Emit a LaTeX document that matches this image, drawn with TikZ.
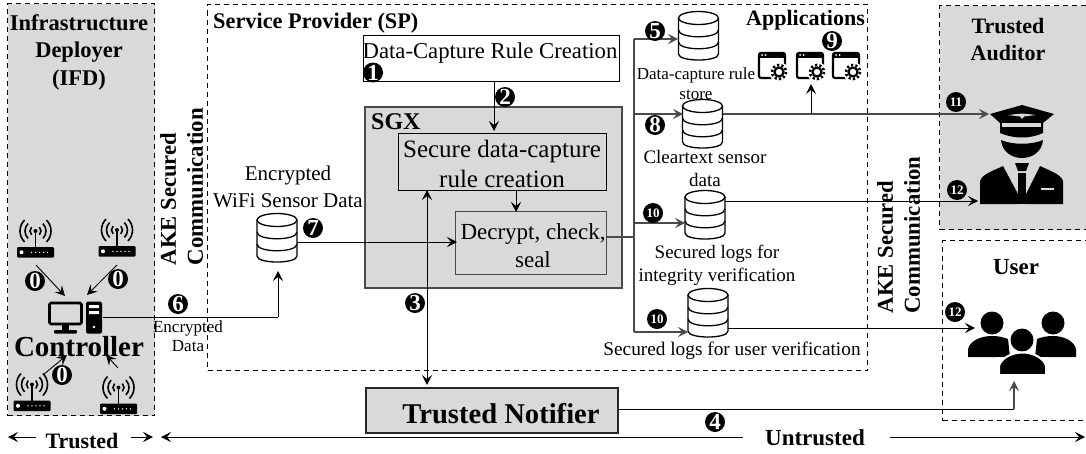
\documentclass[tikz,border=0pt]{standalone}
\usepackage{fontspec}
\setmainfont{Liberation Serif}
\usetikzlibrary{arrows.meta,calc}
\definecolor{panel}{HTML}{D9D9D9}
\definecolor{wire}{HTML}{4A4A4A}
\newcommand{\fs}[1]{\fontsize{#1}{#1}\selectfont}
\tikzset{
  tip/.style={-{Stealth[length=10pt,width=10pt,inset=4pt]}},
  duotip/.style={{Stealth[length=10pt,width=10pt,inset=4pt]}-{Stealth[length=10pt,width=10pt,inset=4pt]}},
  link/.style={line width=0.9pt,black},
  trunk/.style={line width=1.3pt,wire},
  zone/.style={draw,dashed,line width=1pt,dash pattern=on 5pt off 4pt,inner sep=0,anchor=north west},
  solidbox/.style={draw,line width=1.3pt,inner sep=0,anchor=north west},
  num/.style={circle,fill=black,text=white,inner sep=0,minimum size=20pt,font=\bfseries\fs{23}},
  numb/.style={circle,fill=black,text=white,inner sep=0,minimum size=20pt,font=\bfseries\fs{13}},
  txt/.style={inner sep=0,align=center,text depth=0pt},
  db/.pic={
    \draw[line width=1.3pt,fill=white] (-20,-18) -- (-20,18) .. controls (-20,26) and (20,26) .. (20,18) -- (20,-18);
    \draw[line width=1.3pt,fill=white] (0,-18) ellipse[x radius=20,y radius=6.5];
    \draw[line width=1.3pt] (-20,-6) .. controls (-20,3) and (20,3) .. (20,-6);
    \draw[line width=1.3pt] (-20,6) .. controls (-20,15) and (20,15) .. (20,6);
  },
  router/.pic={
    \fill[rounded corners=1pt] (-18.5,-5) rectangle (18.5,5.5);
    \fill[white] (-14,0.3) circle[radius=2];
    \foreach \q in {-4,0,4,8,12} \fill[white] (\q,0.3) circle[radius=0.8];
    \draw[line width=1.6pt] (0,-5) -- (0,-21);
    \fill (0,-21) circle[radius=2];
    \foreach \r in {5.5,10.5,15.5} {
      \draw[line width=1.6pt] (0,-21) ++(-45:\r) arc[start angle=-45,end angle=45,radius=\r];
      \draw[line width=1.6pt] (0,-21) ++(135:\r) arc[start angle=135,end angle=225,radius=\r];
    }
  },
  appicon/.pic={
    \draw[line width=2.2pt,rounded corners=2pt] (11,13) -- (-13,13) -- (-13,-12) -- (13,-12) -- (13,7);
    \fill (-13,-12) rectangle (13,-7);
    \fill[white] (-10,-10) circle[radius=1] (-6.5,-10) circle[radius=1];
    \fill[white] (7,7) circle[radius=10];
    \draw[line width=2.2pt] (7,7) circle[radius=4.5];
    \draw[line width=2.6pt,dash pattern=on 2.2pt off 2.2pt] (7,7) circle[radius=7];
  },
}
\begin{document}
\begin{tikzpicture}[x=1pt,y=-1pt,every node/.style={font=\fs{18}}]
\useasboundingbox (0,0) rectangle (1086,453);

% zones
\node[zone,fill=panel,minimum width=147pt,minimum height=412pt] (ifd) at (7,3) {};
\node[zone,minimum width=660pt,minimum height=366pt] (sp) at (207,4) {};
\node[zone,fill=panel,minimum width=150pt,minimum height=224pt] (auditor) at (939,5) {};
\node[zone,minimum width=150pt,minimum height=180pt] (userzone) at (942,240) {};

% solid boxes
\node[solidbox,fill=white,minimum width=256pt,minimum height=46pt] (rule) at (363,35) {};
\node[solidbox,fill=panel,draw=wire,line width=1.6pt,minimum width=257pt,minimum height=181pt] (sgx) at (364,106) {};
\node[solidbox,minimum width=208pt,minimum height=57pt] (secure) at (398,133) {};
\node[solidbox,draw=wire,minimum width=151pt,minimum height=63pt] (decrypt) at (455,211) {};
\node[solidbox,fill=panel,draw=black!85,line width=1.6pt,minimum width=252pt,minimum height=45pt] (notifier) at (365,387) {};

% icons
\pic at (698.5,36) {db};
\pic at (702.5,124) {db};
\pic at (705,215) {db};
\pic at (708,313) {db};
\pic at (277,238) {db};
\pic at (35.5,252) {router};
\pic at (117,251) {router};
\pic at (32,405.5) {router};
\pic at (118.5,408.5) {router};
\pic at (772,65) {appicon};
\pic at (810,65) {appicon};
\pic at (846,65) {appicon};

% computer
\draw[line width=2.6pt,rounded corners=1.5pt] (49.5,303) rectangle (81.5,324);
\fill (62,325) rectangle (69,331);
\fill[rounded corners=1pt] (54,330) rectangle (77,333.5);
\fill[rounded corners=1.5pt] (86,301.5) rectangle (102,333.5);
\fill[white] (89,305) rectangle (99,308) (89,311) rectangle (99,314);
\fill[white] (94,327) circle[radius=1.4];

% officer
\fill (990,114) -- (1022,105) -- (1054,114) -- (1043,123) -- (1043,133) .. controls (1030,139) and (1014,139) .. (1000,133) -- (1000,123) -- cycle;
\fill[panel] (1002,123) rectangle (1041,127);
\fill[panel] (1008,115) -- (1022,113.5) -- (1036,115) -- (1024,116.5) -- (1022,119) -- (1020,116.5) -- cycle;
\fill (1001,140) .. controls (1012,145) and (1032,145) .. (1043,140) .. controls (1042,152) and (1032,158) .. (1022,158) .. controls (1012,158) and (1002,152) .. (1001,140) -- cycle;
\fill (980,204) -- (980,181) .. controls (982,174) and (995,170) .. (1003,166) -- (1018,194) -- (1018,204) -- cycle;
\fill (1063,204) -- (1063,181) .. controls (1061,174) and (1048,170) .. (1040,166) -- (1026,194) -- (1026,204) -- cycle;
\fill (980,196) rectangle (1063,204);
\fill (1015,163) -- (1029,163) -- (1026,171) -- (1018,171) -- cycle;
\fill (1018,173) -- (1026,173) -- (1026,204) -- (1018,204) -- cycle;
\fill[panel] (1041,187.5) rectangle (1054,190);

% users
\fill (992,323) circle[radius=11.5] (1053,323) circle[radius=11.5] (1022,340) circle[radius=11.5];
\fill (968,357) -- (968,349) .. controls (970,341) and (980,336) .. (992,336) .. controls (998,336) and (1003,337) .. (1008,339) -- (1010,357) -- cycle;
\fill (1076,357) -- (1076,349) .. controls (1074,341) and (1064,336) .. (1053,336) .. controls (1047,336) and (1042,337) .. (1037,339) -- (1035,357) -- cycle;
\fill[white] (997,372) rectangle (1048,357);
\draw[white,line width=2pt,fill=black] (999,375) -- (999,366) .. controls (1001,358) and (1012,352.5) .. (1022.5,352.5) .. controls (1033,352.5) and (1044,358) .. (1046,366) -- (1046,375) -- cycle;

% connector anchors
\coordinate (trunktop) at (634,39);
\coordinate (trunkbot) at (634,332);
\coordinate (dbfive) at (678,39);
\coordinate (dbeight) at (683,114);
\coordinate (dbeightR) at (723,114);
\coordinate (dbtenA) at (685,223);
\coordinate (dbtenAR) at (725,201);
\coordinate (dbtenB) at (688,332);
\coordinate (dbtenBR) at (728,328);
\coordinate (dbsevenB) at (278,271);
\coordinate (dbsevenR) at (297,242);
\coordinate (decryptin) at (457,242);
\coordinate (apps) at (811,84);
\coordinate (appsfoot) at (811,114);
\coordinate (officerhat) at (989,114);
\coordinate (officerbody) at (978,201);
\coordinate (usersA) at (975,328);
\coordinate (usersB) at (1014,381);
\coordinate (pcport) at (103,317);
\coordinate (elbow) at (278,317);
\coordinate (turn) at (1014,409);
\coordinate (threeTop) at (427,190);
\coordinate (threeBot) at (427,385);

% connectors
\draw[trunk] (trunktop) -- (trunkbot);
\draw[trunk,tip] (trunktop) -- (dbfive);
\draw[trunk,tip] (trunktop |- dbeight) -- (dbeight);
\draw[trunk,tip] (trunktop |- dbtenA) -- (dbtenA);
\draw[trunk,tip] (trunkbot) -- (dbtenB);
\draw[trunk] (decrypt.east |- 0,237) -- (634,237);
\draw[trunk,tip] (dbeightR) -- (officerhat);
\draw[link,tip] (appsfoot) -- (apps);
\draw[link,tip] (dbtenAR) -- (officerbody);
\draw[link,tip] (dbtenBR) -- (usersA);
\draw[link,tip] (rule.south -| 494,0) -- (494,131);
\draw[link,tip] (secure.south -| 516,0) -- (516,212);
\draw[link,tip] (dbsevenR) -- (decryptin);
\draw[link,duotip] (threeTop) -- (threeBot);
\draw[link] (pcport) -- (elbow);
\draw[link,tip] (elbow) -- (dbsevenB);
\draw[link] (notifier.east |- turn) -- (turn);
\draw[trunk,tip] (turn) -- (usersB);
\coordinate (ra) at (36,265); \coordinate (rb) at (117,265); \coordinate (rc) at (43,375); \coordinate (rd) at (118,368);
\coordinate (pa) at (65,296); \coordinate (pb) at (87,295); \coordinate (pc) at (67,355); \coordinate (pd) at (106,355);
\draw[link,tip] (ra) -- (pa);
\draw[link,tip] (rb) -- (pb);
\draw[link,tip] (rc) -- (pc);
\draw[link,tip] (rd) -- (pd);

% range arrows
\coordinate (ta) at (36,437); \coordinate (tb) at (8,437); \coordinate (tc) at (131,437); \coordinate (td) at (153,437);
\coordinate (ua) at (743,437); \coordinate (ub) at (161,437); \coordinate (uc) at (890,437); \coordinate (ud) at (1085,437);
\draw[link,tip] (ta) -- (tb);
\draw[link,tip] (tc) -- (td);
\draw[link,tip] (ua) -- (ub);
\draw[link,tip] (uc) -- (ud);

% texts
\node[txt,font=\bfseries\fs{22.5}] (t1) at (79,50) {Infrastructure\\[5pt]Deployer\\[5pt](IFD)};
\node[txt,font=\bfseries\fs{22.3},anchor=west] (t2) at (213,21) {Service Provider (SP)};
\node[txt,font=\bfseries\fs{22},anchor=east] (t3) at (865,18) {Applications};
\node[txt,font=\bfseries\fs{22}] (t4) at (1008,39) {Trusted\\[5pt]Auditor};
\node[txt,font=\bfseries\fs{23}] (t5) at (1016,267) {User};
\node[txt,font=\bfseries\fs{22.6},rotate=90] (t6) at (168,199) {AKE Secured};
\node[txt,font=\bfseries\fs{22.8},rotate=90] (t7) at (195,186.5) {Communication};
\node[txt,font=\bfseries\fs{22.6},rotate=90] (t8) at (885,247) {AKE Secured};
\node[txt,font=\bfseries\fs{22.8},rotate=90] (t9) at (912,235) {Communication};
\node[txt,font=\fs{22.7}] (t10) at (490,50.5) {Data-Capture Rule Creation};
\node[txt,font=\bfseries\fs{24},anchor=west] (t11) at (371,122) {SGX};
\node[txt,font=\fs{25}] (t12) at (502,164) {Secure data-capture\\[5pt]rule creation};
\node[txt,font=\fs{23}] (t13) at (533,246) {Decrypt, check,\\[5pt]seal};
\node[txt,font=\bfseries\fs{28.6}] (t14) at (501,413) {Trusted Notifier};
\node[txt,font=\bfseries\fs{29}] (t15) at (79,346) {Controller};
\node[txt,font=\bfseries\fs{22}] (t16) at (82,441) {Trusted};
\node[txt,font=\bfseries\fs{23}] (t17) at (815,438) {Untrusted};
\node[txt,font=\fs{21}] (t18) at (288,187) {Encrypted\\[6pt]WiFi Sensor Data};
\node[txt,font=\fs{17}] (t19) at (696,84) {Data-capture rule\\[3pt]store};
\node[txt,font=\fs{19}] (t20) at (705,168) {Cleartext sensor\\[4pt]data};
\node[txt,font=\fs{19}] (t21) at (717,263) {Secured logs for\\[4pt]integrity verification};
\node[txt,font=\fs{19.3}] (t22) at (732,349) {Secured logs for user verification};
\node[txt,font=\fs{17}] (t23) at (188,336) {Encrypted\\[2pt]Data};

% numbers
\node[num] (n1) at (373,72.5) {1};
\node[num] (n2) at (505,97) {2};
\node[num] (n3) at (415,303) {3};
\node[num] (n4) at (715,422) {4};
\node[num] (n5) at (655,31) {5};
\node[num] (n6) at (178,304) {6};
\node[num] (n7) at (313,228) {7};
\node[num] (n8) at (655,125) {8};
\node[num] (n9) at (832,41) {9};
\node[numb] (n10a) at (653,213) {10};
\node[numb] (n10b) at (657,319) {10};
\node[numb] (n11) at (956,102) {11};
\node[numb] (n12a) at (957,190) {12};
\node[numb] (n12b) at (955,312) {12};
\node[num] (n0a) at (35,281) {0};
\node[num] (n0b) at (118,279) {0};
\node[num] (n0c) at (62,375) {0};
\end{tikzpicture}
\end{document}
